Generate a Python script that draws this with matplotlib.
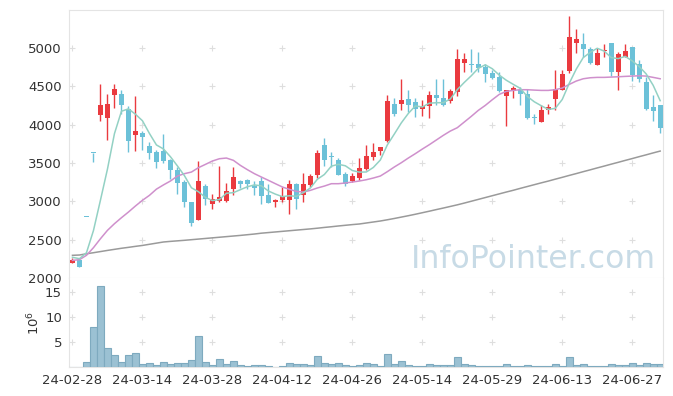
import numpy as np
import matplotlib
matplotlib.use("Agg")
import matplotlib.pyplot as plt

# daily candles (open, high, low, close), 85 trading days from 24-02-28
opens = [2200, 2230, 2802, 3638, 4127, 4090, 4388, 4397, 4210, 3862,
         3888, 3718, 3640, 3653, 3536, 3414, 3248, 2987, 2761, 3196,
         2970, 3005, 3005, 3161, 3270, 3283, 3196, 3270, 3079, 2992,
         3013, 3022, 3231, 3087, 3213, 3344, 3740, 3580, 3536, 3353,
         3266, 3305, 3418, 3575, 3657, 3788, 4271, 4275, 4340, 4301,
         4205, 4245, 4384, 4353, 4305, 4427, 4806, 4790, 4788, 4749,
         4671, 4619, 4375, 4436, 4449, 4405, 4095, 4036, 4188, 4331,
         4458, 4701, 5067, 5049, 4993, 4784, 4958, 5067, 4688, 4884,
         5015, 4788, 4558, 4232, 4262]
highs = [2265, 2230, 2802, 3638, 4536, 4400, 4527, 4458, 4240, 4371,
         3914, 3779, 3666, 3884, 3550, 3449, 3283, 2990, 3527, 3231,
         3100, 3466, 3240, 3453, 3283, 3296, 3270, 3318, 3226, 3031,
         3188, 3283, 3240, 3370, 3353, 3675, 3831, 3644, 3570, 3379,
         3370, 3566, 3731, 3766, 3714, 4388, 4353, 4597, 4449, 4353,
         4318, 4440, 4601, 4593, 4466, 4993, 4941, 4993, 4950, 4797,
         4710, 4688, 4449, 4501, 4492, 4471, 4136, 4262, 4266, 4710,
         4710, 5415, 5254, 5202, 5015, 5006, 5049, 5067, 4949, 5049,
         5015, 4841, 4623, 4393, 4262]
lows = [2200, 2145, 2800, 3520, 4044, 3800, 4223, 4140, 3645, 3662,
        3675, 3553, 3440, 3500, 3292, 3100, 2930, 2675, 2753, 2948,
        2900, 2992, 2992, 3087, 3170, 3166, 3090, 2970, 2975, 2931,
        2990, 2840, 2905, 2996, 3190, 3309, 3457, 3449, 3340, 3205,
        3250, 3274, 3410, 3536, 3600, 3780, 4118, 4197, 4162, 4101,
        4114, 4092, 4253, 4250, 4290, 4371, 4688, 4688, 4688, 4558,
        4600, 4427, 3988, 4353, 4253, 4071, 4014, 4030, 4136, 4188,
        4449, 4675, 4941, 4884, 4788, 4775, 4884, 4640, 4458, 4880,
        4571, 4558, 4190, 4044, 3897]
closes = [2240, 2145, 2800, 3636, 4262, 4266, 4462, 4258, 3790, 3914,
          3840, 3631, 3510, 3531, 3405, 3240, 2992, 2722, 3270, 3035,
          3035, 3057, 3131, 3314, 3227, 3227, 3175, 3070, 2979, 3022,
          3066, 3231, 3031, 3222, 3327, 3636, 3540, 3575, 3344, 3231,
          3327, 3431, 3588, 3640, 3714, 4314, 4140, 4318, 4253, 4205,
          4249, 4384, 4349, 4258, 4440, 4862, 4854, 4785, 4745, 4667,
          4610, 4440, 4449, 4475, 4405, 4088, 4090, 4188, 4232, 4471,
          4667, 5145, 5115, 4988, 4810, 4936, 4962, 4688, 4923, 4958,
          4645, 4593, 4201, 4179, 3958]

# volume in millions
volume = [0, 0, 0.94, 7.97, 16.2, 3.75, 2.34, 0.94, 2.34, 2.75,
          0.54, 0.74, 0.33, 0.94, 0.54, 0.74, 0.74, 1.4, 6.16, 0.94,
          0.33, 1.54, 0.54, 1.14, 0.33, 0.13, 0.33, 0.33, 0.13, 0.05,
          0.13, 0.74, 0.54, 0.54, 0.33, 2.14, 0.74, 0.54, 0.74, 0.33,
          0.13, 0.33, 0.74, 0.54, 0.13, 2.55, 0.54, 1.14, 0.33, 0.13,
          0.13, 0.54, 0.33, 0.33, 0.33, 1.94, 0.54, 0.33, 0.13, 0.13,
          0.13, 0.13, 0.54, 0.13, 0.13, 0.33, 0.13, 0.13, 0.13, 0.54,
          0.13, 1.94, 0.33, 0.54, 0.13, 0.13, 0.13, 0.54, 0.33, 0.33,
          0.74, 0.33, 0.74, 0.54, 0.54]

# moving averages as drawn
ma5 = [2270, 2252, 2330, 2620, 3017, 3422, 3885, 4177, 4208, 4138,
       4053, 3887, 3737, 3685, 3583, 3463, 3336, 3178, 3126, 3052,
       3011, 3024, 3106, 3114, 3153, 3191, 3215, 3203, 3136, 3095,
       3062, 3074, 3066, 3114, 3175, 3289, 3351, 3460, 3484, 3465,
       3403, 3382, 3384, 3443, 3540, 3737, 3879, 4025, 4148, 4246,
       4233, 4282, 4288, 4289, 4336, 4459, 4553, 4640, 4737, 4783,
       4732, 4649, 4582, 4528, 4476, 4371, 4301, 4249, 4201, 4214,
       4330, 4541, 4726, 4877, 4945, 4999, 4962, 4877, 4864, 4893,
       4835, 4761, 4664, 4515, 4315]
ma20 = [2230, 2239, 2296, 2396, 2513, 2622, 2709, 2787, 2861, 2940,
        3014, 3079, 3160, 3215, 3266, 3331, 3362, 3383, 3440, 3483,
        3527, 3557, 3566, 3536, 3470, 3414, 3362, 3318, 3275, 3231,
        3188, 3157, 3131, 3122, 3144, 3175, 3200, 3231, 3231, 3240,
        3253, 3266, 3283, 3305, 3331, 3388, 3449, 3505, 3566, 3623,
        3683, 3740, 3801, 3862, 3918, 3962, 4036, 4110, 4188, 4253,
        4327, 4397, 4436, 4449, 4458, 4458, 4453, 4449, 4449, 4458,
        4480, 4527, 4571, 4601, 4614, 4619, 4619, 4623, 4627, 4632,
        4636, 4640, 4636, 4619, 4601]
ma120 = [2296, 2300, 2316, 2330, 2345, 2360, 2374, 2388, 2400, 2413,
         2425, 2440, 2455, 2470, 2478, 2485, 2492, 2500, 2508, 2516,
         2524, 2532, 2540, 2548, 2556, 2565, 2574, 2585, 2593, 2601,
         2609, 2617, 2625, 2633, 2641, 2650, 2660, 2669, 2679, 2688,
         2697, 2705, 2718, 2731, 2744, 2760, 2777, 2795, 2813, 2832,
         2852, 2872, 2893, 2913, 2934, 2955, 2978, 3002, 3026, 3050,
         3074, 3098, 3122, 3145, 3170, 3194, 3218, 3242, 3265, 3290,
         3314, 3339, 3363, 3388, 3412, 3437, 3461, 3486, 3510, 3535,
         3559, 3584, 3608, 3633, 3657]

date_labels = ['24-02-28', '24-03-14', '24-03-28', '24-04-12', '24-04-26',
               '24-05-14', '24-05-29', '24-06-13', '24-06-27']

RED = '#ea3a3f'
BLUE = '#6cc1d8'
GRID = '#dedede'
SPINE = '#e4e4e4'
TXT = '#333333'

o = np.array(opens)
h = np.array(highs)
l = np.array(lows)
c = np.array(closes)
x = np.arange(len(c))
up = c >= o
cols = np.where(up, RED, BLUE)

fig = plt.figure(figsize=(6.73, 3.96), dpi=100)
ax = fig.add_axes([0.1025, 0.298, 0.8826, 0.677])
ax2 = fig.add_axes([0.1025, 0.0732, 0.8826, 0.2248])

xt = np.arange(0, len(c), 10)

# main price panel
ax.vlines(x, l, h, colors=cols, lw=1.0, zorder=3)
body_lo = np.minimum(o, c)
body_h = np.maximum(np.abs(c - o), 12)
ax.bar(x, body_h, bottom=body_lo, width=0.7, color=cols, lw=0, zorder=4)
ax.plot(x, ma120, color='#9a9a9a', lw=1.1, zorder=5)
ax.plot(x, ma20, color='#cf90cc', lw=1.1, zorder=5)
ax.plot(x, ma5, color='#93d1c4', lw=1.1, zorder=5)

yt = np.arange(2500, 5001, 500)
gx, gy = np.meshgrid(xt, yt)
ax.plot(gx.ravel(), gy.ravel(), '+', color=GRID, ms=5, mew=0.8, zorder=1)

ax.set_xlim(-0.5, 84.4)
ax.set_ylim(2000, 5500)
ax.set_xticks(xt)
ax.set_xticklabels([])
ax.set_yticks(np.arange(2000, 5001, 500))
ax.tick_params(length=0, labelsize=9.5, labelcolor=TXT, pad=5)
for s in ax.spines.values():
    s.set_color(SPINE)

fig.text(0.975, 0.323, 'InfoPointer.com', ha='right', va='baseline',
         fontsize=22.7, color='#c8dbe6', zorder=0)

# volume panel
ax2.bar(x, volume, width=1.0, color='#9bc1d3', edgecolor='#7eaabf', lw=0.8, zorder=3)
vy = [5, 10, 15]
gx2, gy2 = np.meshgrid(xt, vy)
ax2.plot(gx2.ravel(), gy2.ravel(), '+', color=GRID, ms=5, mew=0.8, zorder=1)
ax2.set_xlim(-0.5, 84.4)
ax2.set_ylim(0, 17.9)
ax2.set_yticks(vy)
ax2.set_xticks(xt)
ax2.set_xticklabels(date_labels)
ax2.tick_params(length=0, labelsize=9.5, labelcolor=TXT, pad=5)
ax2.set_ylabel('$10^6$', fontsize=9.5, color=TXT, labelpad=2)
for s in ax2.spines.values():
    s.set_color(SPINE)
ax2.spines['top'].set_visible(False)

fig.savefig('out.png', dpi=100)
